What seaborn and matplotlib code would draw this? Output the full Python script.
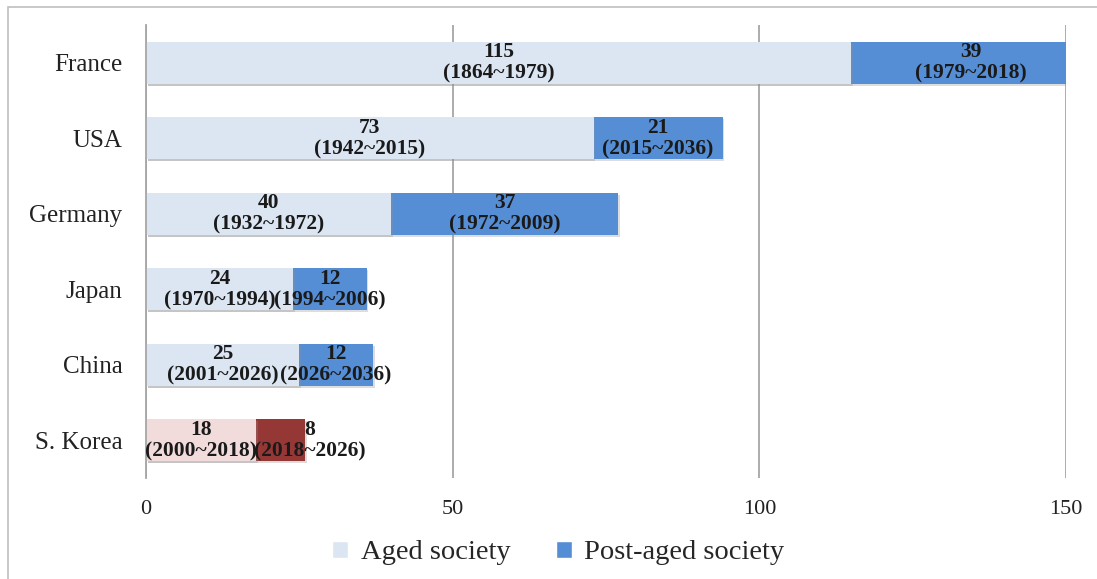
import matplotlib
matplotlib.use('Agg')
import matplotlib.pyplot as plt
import matplotlib.patheffects as pe
from matplotlib.patches import Patch, Rectangle
import pandas as pd
import seaborn as sns

# data
countries = ['France', 'USA', 'Germany', 'Japan', 'China', 'S. Korea']
aged_years = [115, 73, 40, 24, 25, 18]
post_years = [39, 21, 37, 12, 12, 8]
aged_periods = ['(1864~1979)', '(1942~2015)', '(1932~1972)',
                '(1970~1994)', '(2001~2026)', '(2000~2018)']
post_periods = ['(1979~2018)', '(2015~2036)', '(1972~2009)',
                '(1994~2006)', '(2026~2036)', '(2018~2026)']

aged_color = '#DCE6F2'
post_color = '#558ED5'
korea_aged = '#F2DCDB'
korea_post = '#953735'

df = pd.DataFrame({'country': countries, 'aged': aged_years,
                   'post': post_years})
df['total'] = df['aged'] + df['post']

aged_pal = {c: (korea_aged if c == 'S. Korea' else aged_color) for c in countries}
post_pal = {c: (korea_post if c == 'S. Korea' else post_color) for c in countries}

sns.set_style('white')
plt.rcParams['font.family'] = ['Liberation Serif', 'DejaVu Serif']

fig = plt.figure(figsize=(10.97, 5.79), dpi=100)
ax = fig.add_axes([0.1331, 0.1744, 0.8386, 0.7824])

shadow = [pe.SimplePatchShadow(offset=(1.2, -1.5), shadow_rgbFace='#909090',
                               alpha=0.3), pe.Normal()]

sns.barplot(data=df, x='total', y='country', hue='country', palette=post_pal,
            order=countries, width=0.56, legend=False, ax=ax, saturation=1)
sns.barplot(data=df, x='aged', y='country', hue='country', palette=aged_pal,
            order=countries, width=0.56, legend=False, ax=ax, saturation=1)
for p in ax.patches:
    p.set_path_effects(shadow)
    p.set_edgecolor('none')

# segment labels
for i, c in enumerate(countries):
    a, b = aged_years[i], post_years[i]
    ax.text(a / 2, i, f'{a}\n{aged_periods[i]}', ha='center', va='center',
            fontsize=15.5, fontweight='bold', linespacing=1.1, color='#1a1a1a')
    xp = a + b / 2
    if c == 'S. Korea':
        xp += 4.7  # label pushed out to the right in the original
    ax.text(xp, i, f'{b}\n{post_periods[i]}', ha='center', va='center',
            fontsize=15.5, fontweight='bold', linespacing=1.1, color='#1a1a1a')

ax.set_xlim(0, 150)
ax.set_ylim(5.5, -0.5)
ax.set_xticks([0, 50, 100, 150])
ax.set_xlabel('')
ax.set_ylabel('')
ax.xaxis.grid(True, color='#A6A6A6', linewidth=1.3)
ax.set_axisbelow(True)
for s in ['top', 'right', 'bottom']:
    ax.spines[s].set_visible(False)
ax.spines['left'].set_color('#A6A6A6')
ax.spines['left'].set_linewidth(1.3)
ax.tick_params(axis='x', length=0, pad=16, labelsize=16, labelcolor='#222222')
ax.tick_params(axis='y', length=0, pad=17, labelsize=18, labelcolor='#222222')

handles = [Patch(facecolor=aged_color, label='Aged society'),
           Patch(facecolor=post_color, label='Post-aged society')]
fig.legend(handles=handles, loc='center', bbox_to_anchor=(0.509, 0.045),
           ncol=2, frameon=False, fontsize=20.5, handlelength=0.55,
           handleheight=0.55, handletextpad=0.45, columnspacing=1.6)

# outer frame
fig.patches.append(Rectangle((0.0073, -0.05), 1.1, 1.038, transform=fig.transFigure,
                             fill=False, edgecolor='#BFBFBF', linewidth=1.2))

fig.savefig('out.png', dpi=100)
